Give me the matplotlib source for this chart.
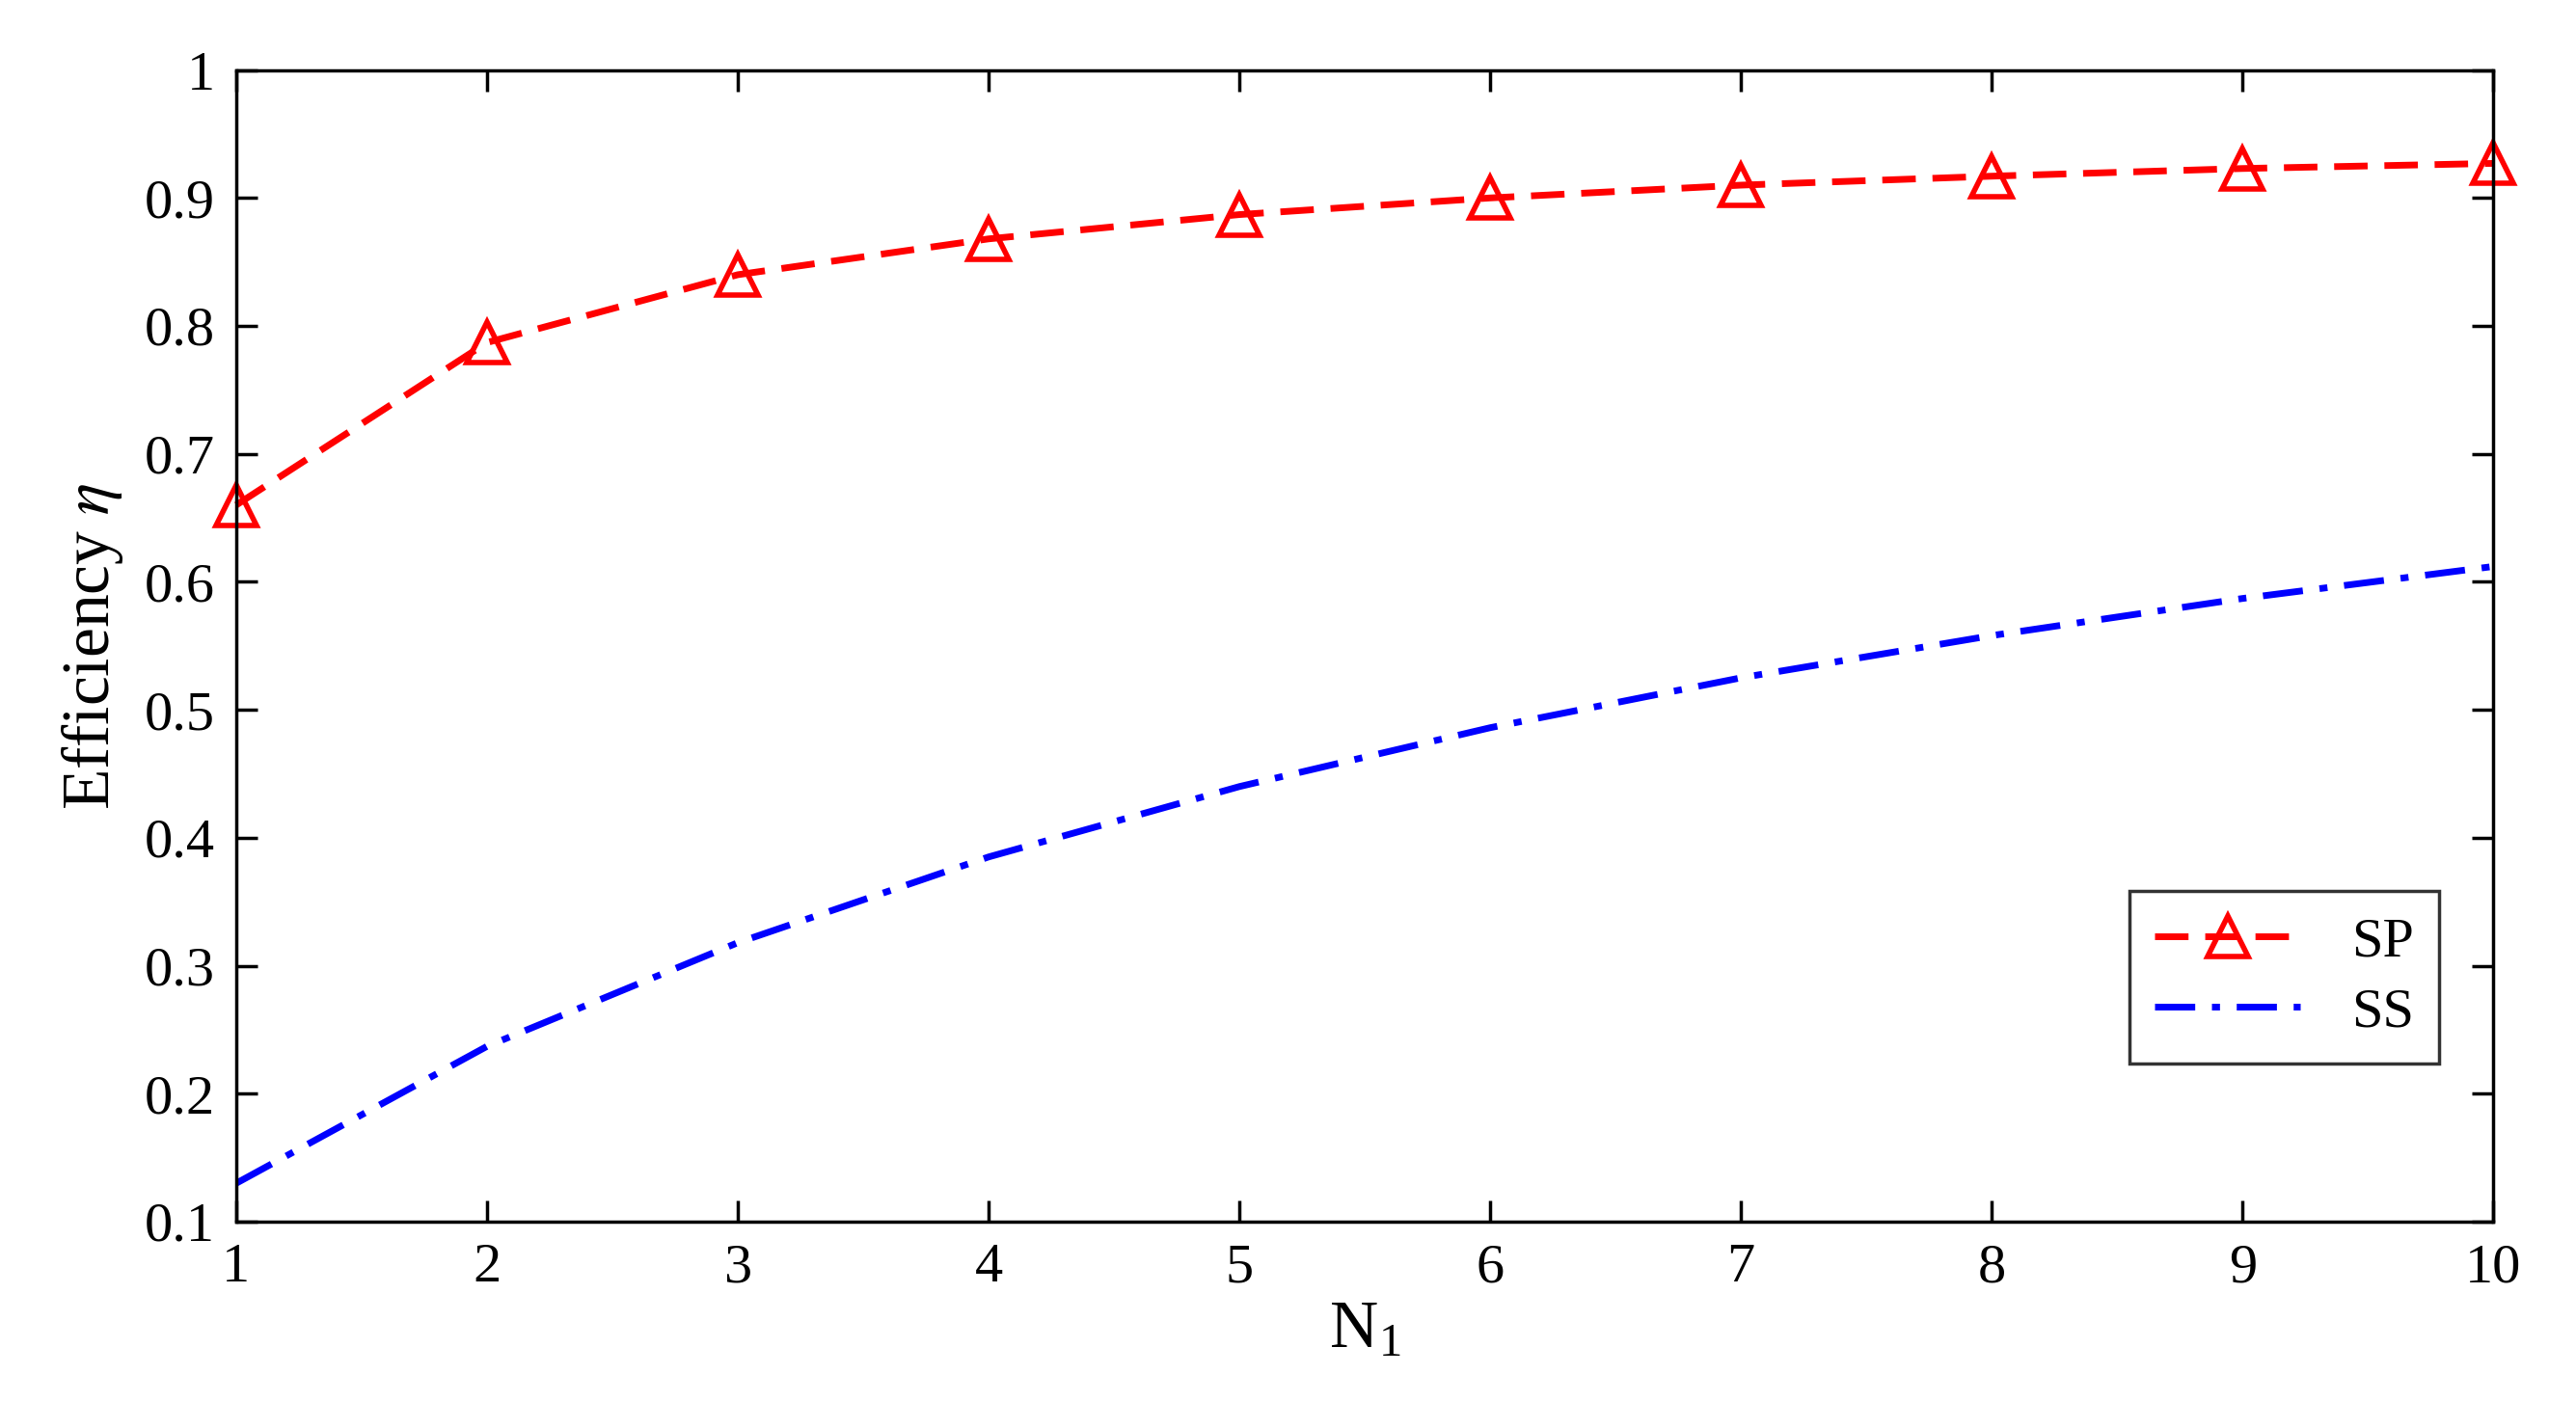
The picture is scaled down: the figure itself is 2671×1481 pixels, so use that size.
import matplotlib
matplotlib.use("Agg")
import matplotlib.pyplot as plt

n1 = [1, 2, 3, 4, 5, 6, 7, 8, 9, 10]
sp = [0.66, 0.787, 0.840, 0.868, 0.887, 0.900, 0.910, 0.917, 0.923, 0.927]
ss = [0.130, 0.237, 0.318, 0.385, 0.440, 0.486, 0.525, 0.558, 0.587, 0.612]

plt.rcParams['font.family'] = ['Liberation Serif', 'DejaVu Serif']
plt.rcParams['mathtext.fontset'] = 'stix'

fig = plt.figure(figsize=(26.71, 14.81), dpi=100)
ax = fig.add_axes([0.0917, 0.1445, 0.8807 - 0.0045, 0.8065])

ax.plot(n1, sp, color='red', linestyle=(0, (5, 2.5)), linewidth=5,
        marker='^', markersize=30, markerfacecolor='none',
        markeredgewidth=4, label='SP', clip_on=False)
ax.plot(n1, ss, color='blue', linestyle=(0, (6, 2.5, 1.2, 2.5)), linewidth=5,
        label='SS')

ax.set_xlim(1, 10)
ax.set_ylim(0.1, 1.0)
ax.set_xticks(n1)
ax.set_xticklabels([str(v) for v in n1])
yt = [0.1, 0.2, 0.3, 0.4, 0.5, 0.6, 0.7, 0.8, 0.9, 1.0]
ax.set_yticks(yt)
ax.set_yticklabels(['0.1', '0.2', '0.3', '0.4', '0.5', '0.6', '0.7', '0.8', '0.9', '1'])
ax.tick_params(direction='in', top=True, right=True, length=16, width=2.5,
               labelsize=42, pad=16)
for s in ax.spines.values():
    s.set_linewidth(2.5)

ax.set_xlabel('N$_{\\mathregular{1}}$', fontsize=50, labelpad=6)
ax.set_ylabel(r'Efficiency $\eta$', fontsize=50, labelpad=14)

leg = ax.legend(loc='lower right', bbox_to_anchor=(0.9885, 0.113), fontsize=42,
                frameon=True, fancybox=False, edgecolor='black',
                handlelength=2.6, borderpad=0.45, labelspacing=0.35,
                handletextpad=0.9)
leg.get_frame().set_linewidth(2.5)

fig.savefig('out.png', dpi=100)
